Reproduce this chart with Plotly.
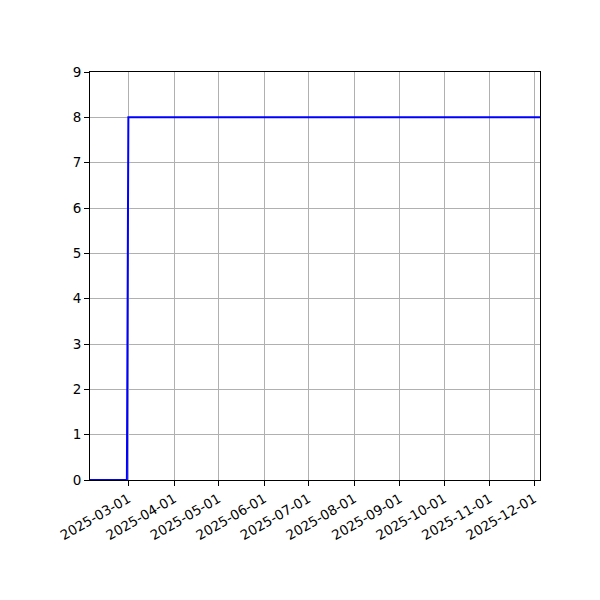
import plotly.graph_objects as go

# Step series
dates = ["2025-02-03", "2025-02-28", "2025-03-01", "2025-12-05"]
values = [0, 0, 8, 8]

tick_dates = ["2025-03-01", "2025-04-01", "2025-05-01", "2025-06-01", "2025-07-01",
              "2025-08-01", "2025-09-01", "2025-10-01", "2025-11-01", "2025-12-01"]
x_range = ["2025-02-03", "2025-12-05"]
y_range = [0, 9]

fig = go.Figure()
fig.add_trace(go.Scatter(x=dates, y=values, mode="lines",
                         line=dict(color="#0000ff", width=2), showlegend=False))

axis_common = dict(showline=True, linecolor="black", linewidth=1, mirror=True,
                   showgrid=True, gridcolor="#b0b0b0", gridwidth=1,
                   ticks="outside", ticklen=5, tickcolor="black", tickwidth=1,
                   zeroline=False, tickfont=dict(family="DejaVu Sans", size=13.5, color="black"))

fig.update_xaxes(range=x_range, tickmode="array", tickvals=tick_dates, ticktext=tick_dates,
                 tickangle=-30, **axis_common)
fig.update_yaxes(range=y_range, tick0=0, dtick=1, **axis_common)

fig.update_layout(width=600, height=600, plot_bgcolor="white", paper_bgcolor="white",
                  margin=dict(l=82, r=68, t=64, b=128, autoexpand=False))

fig.write_html("out.html")
